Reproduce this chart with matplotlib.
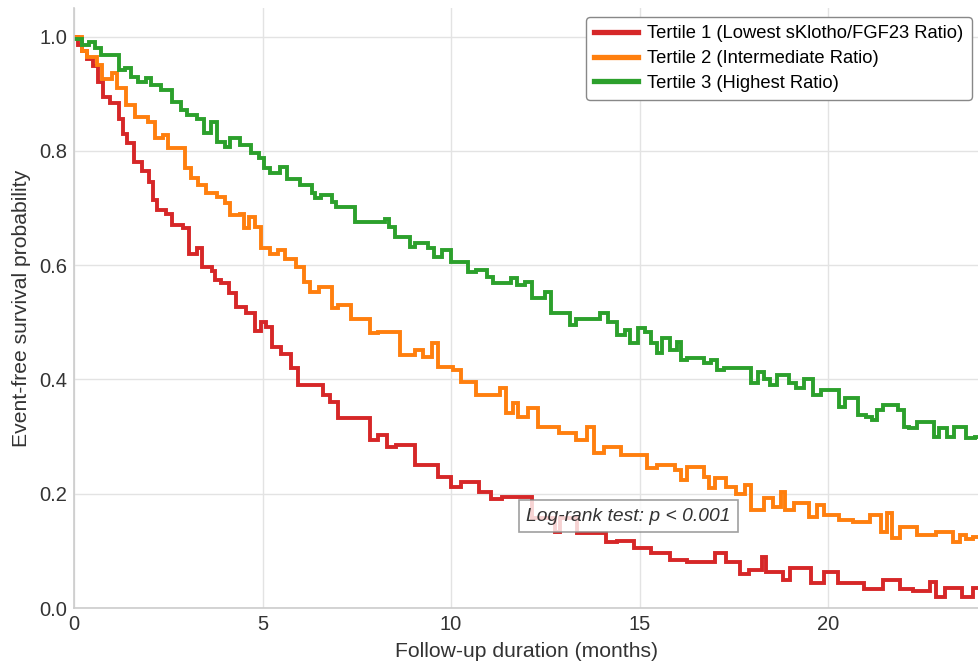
import matplotlib
matplotlib.use("Agg")
import matplotlib.pyplot as plt

# ---- data ----
t1_times = [0, 0.1, 0.2, 0.35, 0.5, 0.64, 0.77, 0.95, 1.2, 1.3, 1.4, 1.6, 1.8, 2.0, 2.1, 2.2, 2.45, 2.6, 2.9, 3.05,
            3.25, 3.4, 3.65, 3.75, 3.9, 4.1, 4.3, 4.55, 4.8, 4.95, 5.1, 5.25, 5.5, 5.75, 5.95, 6.6, 6.8, 7.0, 7.85, 8.05,
            8.3, 8.55, 9.05, 9.65, 10.0, 10.25, 10.75, 11.05, 11.35, 12.15, 12.75, 12.9, 13.35, 14.1, 14.4, 14.85, 15.3,
            15.8, 16.25, 17.0, 17.3, 17.65, 17.9, 18.25, 18.35, 18.8, 19.0, 19.55, 19.9, 20.25, 20.95, 21.45, 21.9,
            22.25, 22.7, 22.85, 23.1, 23.55, 23.85]
t1_surv = [1.0, 0.985, 0.975, 0.96, 0.948, 0.92, 0.895, 0.884, 0.855, 0.83, 0.814, 0.78, 0.764, 0.745, 0.714, 0.697,
           0.69, 0.67, 0.665, 0.62, 0.63, 0.597, 0.59, 0.574, 0.569, 0.552, 0.527, 0.517, 0.485, 0.5, 0.492, 0.457,
           0.445, 0.42, 0.39, 0.373, 0.36, 0.333, 0.294, 0.303, 0.282, 0.285, 0.25, 0.23, 0.212, 0.22, 0.203, 0.19,
           0.195, 0.158, 0.133, 0.158, 0.131, 0.116, 0.118, 0.105, 0.096, 0.084, 0.08, 0.096, 0.08, 0.06, 0.067, 0.09,
           0.063, 0.049, 0.07, 0.044, 0.063, 0.044, 0.033, 0.049, 0.033, 0.03, 0.046, 0.02, 0.035, 0.02, 0.035]

t2_times = [0, 0.2, 0.35, 0.6, 0.75, 1.0, 1.15, 1.38, 1.62, 1.95, 2.15, 2.35, 2.5, 2.95, 3.1, 3.3, 3.5, 3.8, 4.0, 4.15,
            4.4, 4.5, 4.65, 4.8, 4.95, 5.2, 5.4, 5.6, 5.9, 6.1, 6.25, 6.5, 6.85, 7.0, 7.35, 7.85, 8.05, 8.65, 9.05, 9.25,
            9.5, 9.65, 10.05, 10.25, 10.65, 11.3, 11.45, 11.65, 11.78, 12.05, 12.3, 12.85, 13.3, 13.6, 13.8, 14.05, 14.5,
            15.2, 15.45, 15.95, 16.1, 16.25, 16.7, 16.85, 17.0, 17.3, 17.55, 17.8, 17.95, 18.3, 18.55, 18.75, 18.85,
            19.1, 19.5, 19.7, 19.9, 20.3, 20.65, 21.1, 21.4, 21.55, 21.7, 21.9, 22.35, 22.85, 23.3, 23.5, 23.65, 23.85]
t2_surv = [1.0, 0.974, 0.965, 0.95, 0.925, 0.937, 0.91, 0.88, 0.86, 0.85, 0.823, 0.828, 0.805, 0.77, 0.753, 0.741,
           0.727, 0.72, 0.709, 0.688, 0.69, 0.665, 0.685, 0.667, 0.63, 0.62, 0.627, 0.61, 0.597, 0.571, 0.553, 0.562,
           0.525, 0.53, 0.505, 0.481, 0.483, 0.443, 0.452, 0.44, 0.464, 0.422, 0.417, 0.396, 0.373, 0.385, 0.341,
           0.359, 0.335, 0.35, 0.317, 0.306, 0.294, 0.317, 0.271, 0.282, 0.268, 0.245, 0.25, 0.242, 0.224, 0.247,
           0.23, 0.21, 0.228, 0.212, 0.2, 0.215, 0.172, 0.193, 0.177, 0.203, 0.172, 0.184, 0.16, 0.18, 0.163, 0.154,
           0.151, 0.163, 0.133, 0.166, 0.122, 0.142, 0.128, 0.133, 0.116, 0.128, 0.12, 0.125]

t3_times = [0, 0.2, 0.4, 0.55, 0.72, 1.2, 1.35, 1.5, 1.7, 1.9, 2.05, 2.3, 2.6, 2.85, 3.0, 3.25, 3.45, 3.62, 3.8, 4.0,
            4.15, 4.4, 4.7, 4.9, 5.05, 5.2, 5.45, 5.65, 6.0, 6.3, 6.4, 6.55, 6.85, 6.95, 7.45, 8.25, 8.35, 8.5, 8.9,
            9.05, 9.4, 9.55, 9.75, 10.0, 10.45, 10.65, 10.95, 11.1, 11.6, 11.75, 11.95, 12.15, 12.5, 12.65, 13.15,
            13.3, 13.95, 14.15, 14.4, 14.6, 14.75, 14.95, 15.15, 15.3, 15.45, 15.6, 15.8, 16.0, 16.1, 16.25, 16.7,
            16.9, 17.05, 17.25, 17.95, 18.15, 18.3, 18.45, 18.65, 18.95, 19.15, 19.35, 19.6, 19.8, 20.3, 20.45, 20.8,
            21.0, 21.15, 21.3, 21.45, 21.85, 22.0, 22.15, 22.35, 22.8, 22.95, 23.15, 23.35, 23.65, 23.9]
t3_surv = [0.995, 0.986, 0.991, 0.98, 0.968, 0.942, 0.945, 0.93, 0.921, 0.928, 0.916, 0.907, 0.886, 0.872, 0.863,
           0.855, 0.832, 0.851, 0.816, 0.807, 0.823, 0.811, 0.797, 0.788, 0.77, 0.762, 0.772, 0.75, 0.741, 0.727,
           0.718, 0.723, 0.711, 0.702, 0.676, 0.68, 0.667, 0.65, 0.632, 0.639, 0.63, 0.615, 0.627, 0.606, 0.588,
           0.592, 0.58, 0.569, 0.578, 0.566, 0.571, 0.543, 0.553, 0.517, 0.496, 0.506, 0.517, 0.501, 0.478, 0.487,
           0.464, 0.49, 0.483, 0.464, 0.447, 0.473, 0.452, 0.466, 0.434, 0.438, 0.429, 0.434, 0.417, 0.42, 0.394,
           0.413, 0.4, 0.39, 0.408, 0.394, 0.385, 0.4, 0.373, 0.382, 0.352, 0.368, 0.338, 0.335, 0.329, 0.347, 0.356,
           0.347, 0.317, 0.315, 0.326, 0.3, 0.315, 0.3, 0.317, 0.298, 0.3]

labels = ["Tertile 1 (Lowest sKlotho/FGF23 Ratio)",
          "Tertile 2 (Intermediate Ratio)",
          "Tertile 3 (Highest Ratio)"]
colors = ["#d62728", "#ff7f0e", "#2ca02c"]
x_ticks = [0, 5, 10, 15, 20]
y_ticks = [0.0, 0.2, 0.4, 0.6, 0.8, 1.0]
annotation = "Log-rank test: p < 0.001"
x_end = 24

plt.rcParams['font.family'] = ['Liberation Sans', 'DejaVu Sans']

fig = plt.figure(figsize=(9.79, 6.65), dpi=100)
ax = fig.add_axes([74 / 979, 1 - 608 / 665, 1 - 74 / 979, (608 - 8) / 665])

series = [(t1_times, t1_surv), (t2_times, t2_surv), (t3_times, t3_surv)]
for (tt, ss), lab, col in zip(series, labels, colors):
    ax.step(list(tt) + [x_end], list(ss) + [ss[-1]], where='post', color=col, lw=2.8, label=lab,
            solid_joinstyle='miter')

ax.set_xlim(0, x_end)
ax.set_ylim(0, 1.05)
ax.set_xticks(x_ticks)
ax.set_yticks(y_ticks)
ax.set_yticklabels([f"{v:.1f}" for v in y_ticks])
ax.grid(True, color="#e3e3e3", lw=1.0)
ax.set_axisbelow(True)
for s in ["top", "right"]:
    ax.spines[s].set_visible(False)
for s in ["left", "bottom"]:
    ax.spines[s].set_color("#cccccc")
    ax.spines[s].set_linewidth(1.2)
ax.tick_params(axis='both', labelsize=14.5, length=0, pad=5, colors="#333333")
ax.set_xlabel("Follow-up duration (months)", fontsize=15.2, color="#333333", labelpad=6)
ax.set_ylabel("Event-free survival probability", fontsize=15.2, color="#333333", labelpad=6)

leg = ax.legend(loc='upper right', fontsize=13.2, frameon=True, fancybox=True, edgecolor="#888888",
                framealpha=1.0, handlelength=2.4, handletextpad=0.5, borderpad=0.45, labelspacing=0.42,
                borderaxespad=0.0, bbox_to_anchor=(0.992, 0.985))
leg.get_frame().set_linewidth(1.0)
for line in leg.get_lines():
    line.set_linewidth(3.8)

ax.text(12.0, 0.153, annotation, fontsize=13.9, style='italic', color="#333333",
        bbox=dict(boxstyle='square,pad=0.38', facecolor='white', edgecolor='#888888', alpha=0.8, lw=1.2))

fig.savefig("out.png", dpi=100)
